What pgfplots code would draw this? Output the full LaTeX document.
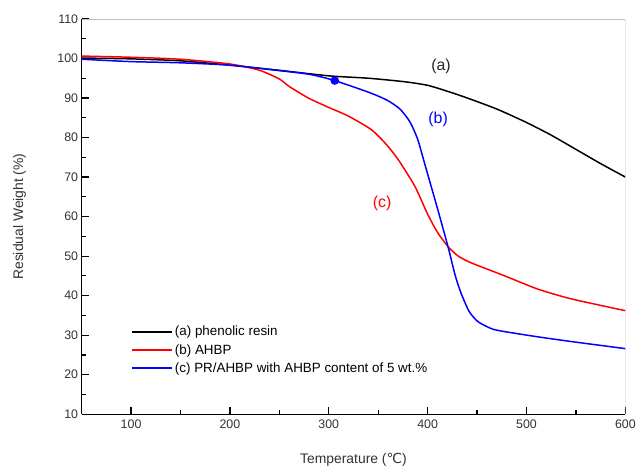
\documentclass[border=0pt]{standalone}
\usepackage{fontspec}
\setmainfont{Liberation Sans}
\newfontfamily\dejavu{DejaVu Sans}
\usepackage{pgfplots}
\pgfplotsset{compat=1.18}
\usetikzlibrary{calc}

% TGA curves
\pgfplotstableread{
T w
50 100.1
100 99.9
150 99.4
200 98.3
250 97.0
300 95.6
340 95.0
377 94.1
400 93.2
420 91.7
440 90.0
470 87.2
500 83.8
525 80.6
550 77.0
575 73.4
600 70.0
}\resin

\pgfplotstableread{
T w
50 100.6
100 100.3
150 99.8
200 98.6
230 97.0
250 94.8
260 92.9
280 89.9
300 87.6
320 85.4
343 82.0
358 78.3
370 74.5
387 67.7
400 60.6
410 56.0
421 52.3
431 50.0
444 48.3
478 45.0
511 41.7
545 39.2
600 36.2
}\ahbp

\pgfplotstableread{
T w
50 99.8
100 99.2
150 98.9
200 98.3
240 97.2
280 96.0
306 94.4
343 91.2
360 89.3
372 87.2
382 84.0
390 79.5
398 72.5
410 62.0
421 52.0
428 45.0
434 40.5
442 36.0
451 33.4
465 31.6
478 30.9
511 29.6
545 28.4
600 26.6
}\pr

\begin{document}
\begin{tikzpicture}
\begin{axis}[
    name=ax,
    scale only axis,
    width=546bp, height=397bp,
    xmin=50, xmax=600,
    ymin=10, ymax=110,
    axis lines=left,
    axis line style={-, line width=1.4bp},
    xtick={100,200,...,600},
    ytick={10,20,...,110},
    minor xtick={50,150,...,550},
    minor ytick={15,25,...,105},
    tick align=inside,
    major tick length=7bp,
    minor tick length=4bp,
    tick style={black, line width=1.2bp},
    /pgf/number format/assume math mode=true,
    ticklabel style={font=\fontsize{12.5}{14}\selectfont, text=black!80},
    xticklabel style={yshift=-2bp},
    xlabel={Temperature ({\dejavu ℃})},
    ylabel={Residual Weight (\%)},
    label style={font=\fontsize{14}{16}\selectfont, text=black!80, inner sep=0pt},
    xlabel style={at={(axis description cs:0.5,0)}, anchor=south, yshift=-53bp},
    ylabel style={at={(axis description cs:0,0.5)}, anchor=north, yshift=69bp},
    legend style={draw=none, fill=none, at={(0.0916,0.228)}, anchor=north west,
        inner sep=0pt, font=\fontsize{13.5}{15}\selectfont, row sep=3bp,
        legend cell align=left},
    legend image code/.code={\draw[#1] (0bp,0bp) -- (40bp,0bp);},
    every axis plot/.append style={line width=1.5bp},
]
\addplot[black, no marks, smooth, tension=0.4] table[x=T, y=w] {\resin};
\addlegendentry{(a) phenolic resin}
\addplot[red, no marks, smooth, tension=0.4] table[x=T, y=w] {\ahbp};
\addlegendentry{(b) AHBP}
\addplot[blue, no marks, smooth, tension=0.4] table[x=T, y=w] {\pr};
\addlegendentry{(c) PR/AHBP with AHBP content of 5 wt.\%}
\addplot[blue, only marks, mark=*, mark size=3.5bp, forget plot] coordinates {(306,94.4)};

\node[font=\fontsize{16}{18}\selectfont, text=black!85] at (axis cs:413.6,97.9) {(a)};
\node[font=\fontsize{16}{18}\selectfont, text=blue] at (axis cs:410.6,84.6) {(b)};
\node[font=\fontsize{16}{18}\selectfont, text=red] at (axis cs:354,63.4) {(c)};

\draw[black!25, line width=0.8bp] (rel axis cs:0,1) -- (rel axis cs:1,1) -- (rel axis cs:1,0);
\end{axis}
\path ($(ax.south west)+(-82bp,-54bp)$) rectangle ($(ax.north east)+(11bp,19bp)$);
\end{tikzpicture}
\end{document}
